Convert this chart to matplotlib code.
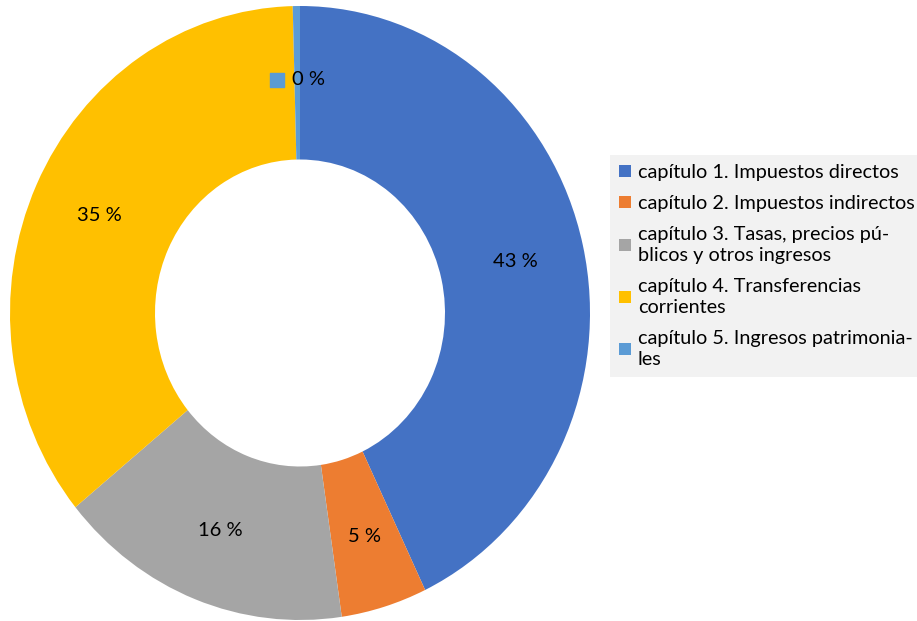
import numpy as np
import matplotlib.pyplot as plt
from matplotlib.patches import Patch

plt.rcParams['font.family'] = ['Lato', 'DejaVu Sans']

# data (percent of total)
categories = ['capítulo 1. Impuestos directos',
              'capítulo 2. Impuestos indirectos',
              'capítulo 3. Tasas, precios pú-\nblicos y otros ingresos',
              'capítulo 4. Transferencias\ncorrientes',
              'capítulo 5. Ingresos patrimonia-\nles']
values = [42.9, 4.8, 16.4, 35.5, 0.4]
value_labels = ['43 %', '5 %', '16 %', '35 %', '0 %']
colors = ['#4472C4', '#ED7D31', '#A5A5A5', '#FFC000', '#5B9BD5']

fig = plt.figure(figsize=(9.17, 6.21), dpi=100)
ax = fig.add_axes([10/917, 1/621, 580/917, 614/621])

wedges, _ = ax.pie(values, colors=colors, startangle=90, counterclock=False,
                   radius=1, wedgeprops=dict(width=0.5, edgecolor='none'))
ax.set_aspect('auto')
ax.set_xlim(-1, 1)
ax.set_ylim(-1, 1)

# data labels at the middle of each ring segment
start = 0.0
total = sum(values)
r_lab = 0.76
for i, (v, lab) in enumerate(zip(values, value_labels)):
    mid = (start + v / 2) / total * 2 * np.pi
    start += v
    x, y = r_lab * np.sin(mid), r_lab * np.cos(mid)
    if i == len(values) - 1:
        # small slice: label shown with its legend key
        ax.text(x + 0.04, y, lab, ha='center', va='center', fontsize=14.5)
        ax.scatter([x - 0.07], [y], marker='s', s=100, color=colors[i], zorder=5)
    else:
        ax.text(x, y, lab, ha='center', va='center', fontsize=14.5)

handles = [Patch(facecolor=c, edgecolor='none') for c in colors]
leg = fig.legend(handles, categories, loc='upper left',
                 bbox_to_anchor=(610/917, 1 - 155/621), frameon=True,
                 fancybox=False, facecolor='#F2F2F2', edgecolor='none',
                 fontsize=14.3, handlelength=0.6, handleheight=0.6,
                 handletextpad=0.35, labelspacing=0.7, borderpad=0.45,
                 borderaxespad=0, framealpha=1)
for t in leg.get_texts():
    t.set_linespacing(1.3)

fig.savefig('out.png', dpi=100)
